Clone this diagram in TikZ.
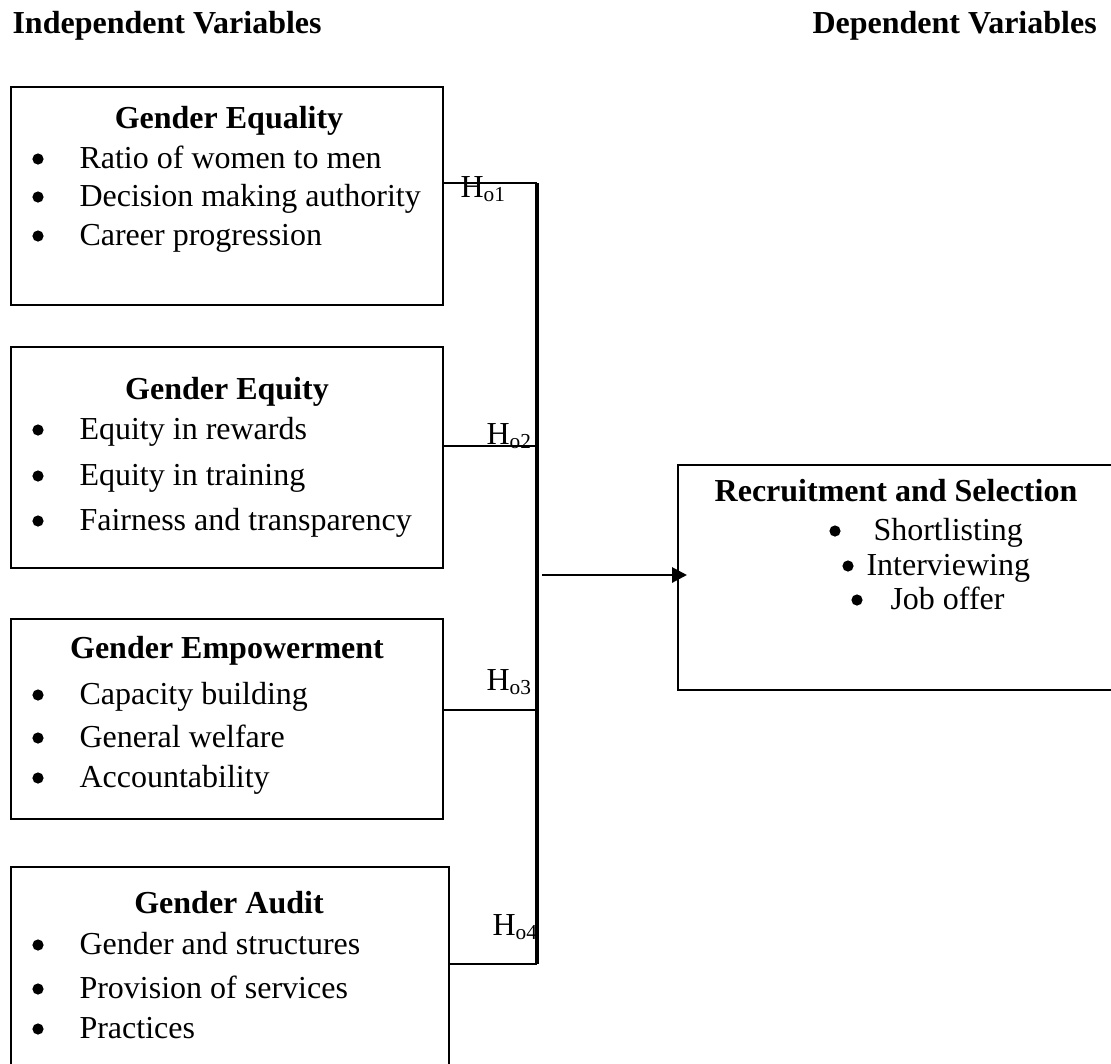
\documentclass[tikz,border=0pt]{standalone}
\usepackage{fontspec}
\setmainfont{Liberation Serif}
\usepackage{tikz}
\usetikzlibrary{positioning, arrows.meta}

\begin{document}
\begin{tikzpicture}[x=0.375pt, y=-0.375pt,
  box/.style={draw, line width=0.75pt, minimum width=162pt, inner sep=0pt},
  head/.style={font=\fontsize{12}{14}\selectfont\bfseries, anchor=base west, inner sep=0pt},
  title/.style={font=\fontsize{12}{14}\selectfont\bfseries, anchor=base, inner sep=0pt},
  item/.style={font=\fontsize{12}{14}\selectfont, anchor=base west, inner sep=0pt},
  bul/.style={circle, fill, inner sep=0pt, minimum size=4.2pt},
  hyp/.style={font=\fontsize{12}{14}\selectfont, anchor=base west, inner sep=0pt},
  hline/.style={line width=1pt},
  bar/.style={line width=1.5pt},
  arr/.style={-{Triangle[length=5.6pt,width=5.6pt]}, line width=1.1pt}]

  \useasboundingbox (0,0) rectangle (1111,1063);
  \clip (0,0) rectangle (1111,1063);

  %% headings
  \node[head] (indep) at (12,33)  {Independent Variables};
  \node[head] (dep)   at (812,33) {Dependent Variables};

  %% independent variable boxes
  \node[box, minimum height=81.75pt]  (equality) at (227,196)   {};
  \node[box, minimum height=82.875pt] (equity)   at (227,457.5) {};
  \node[box, minimum height=75pt]     (empower)  at (227,719)   {};
  \node[box, minimum width=164.25pt, minimum height=78pt] (audit) at (230,971) {};

  %% dependent variable box
  \node[box, minimum width=169.5pt, minimum height=84.375pt] (recruit) at (904,577.5) {};

  %% Gender Equality
  \node[title] (t1) at (229,128) {Gender Equality};
  \node[bul] (b11) at (38,159) {};
  \node[item] (i11) at (79,168) {Ratio of women to men};
  \node[bul] (b12) at (38,197) {};
  \node[item] (i12) at (79,206) {Decision making authority};
  \node[bul] (b13) at (38,236) {};
  \node[item] (i13) at (79,245) {Career progression};

  %% Gender Equity
  \node[title] (t2) at (227,399) {Gender Equity};
  \node[bul] (b21) at (38,430) {};
  \node[item] (i21) at (79,439) {Equity in rewards};
  \node[bul] (b22) at (38,476) {};
  \node[item] (i22) at (79,485) {Equity in training};
  \node[bul] (b23) at (38,521) {};
  \node[item] (i23) at (79,530) {Fairness and transparency};

  %% Gender Empowerment
  \node[title] (t3) at (227,658) {Gender Empowerment};
  \node[bul] (b31) at (38,695) {};
  \node[item] (i31) at (79,704) {Capacity building};
  \node[bul] (b32) at (38,738) {};
  \node[item] (i32) at (79,747) {General welfare};
  \node[bul] (b33) at (38,778) {};
  \node[item] (i33) at (79,787) {Accountability};

  %% Gender Audit
  \node[title] (t4) at (229,913) {Gender Audit};
  \node[bul] (b41) at (38,945) {};
  \node[item] (i41) at (79,954) {Gender and structures};
  \node[bul] (b42) at (38,989) {};
  \node[item] (i42) at (79,998) {Provision of services};
  \node[bul] (b43) at (38,1029) {};
  \node[item] (i43) at (79,1038) {Practices};

  %% Recruitment and Selection
  \node[title] (t5) at (896,501) {Recruitment and Selection};
  \node[bul] (b51) at (835,531) {};
  \node[item] (i51) at (873,540) {Shortlisting};
  \node[bul] (b52) at (848,566) {};
  \node[item] (i52) at (866,575) {Interviewing};
  \node[bul] (b53) at (857,600) {};
  \node[item] (i53) at (890,609) {Job offer};

  %% joining bar
  \coordinate (j1) at (537,183);
  \coordinate (j2) at (537,446);
  \coordinate (j3) at (537,710);
  \coordinate (j4) at (537,964);
  \coordinate (jout) at (542,575);

  \draw[bar] (j1) -- (j4);
  \draw[hline] (j1 -| equality.east) -- (j1);
  \draw[hline] (j2 -| equity.east)   -- (j2);
  \draw[hline] (j3 -| empower.east)  -- (j3);
  \draw[hline] (j4 -| audit.east)    -- (j4);
  \draw[arr, shorten >=-3.75pt] (jout) -- (jout -| recruit.west);

  %% hypotheses
  \node[hyp] (h1) at (460,197) {H\textsubscript{o1}};
  \node[hyp] (h2) at (486,444) {H\textsubscript{o2}};
  \node[hyp] (h3) at (486,690) {H\textsubscript{o3}};
  \node[hyp] (h4) at (492,935) {H\textsubscript{o4}};
\end{tikzpicture}
\end{document}
